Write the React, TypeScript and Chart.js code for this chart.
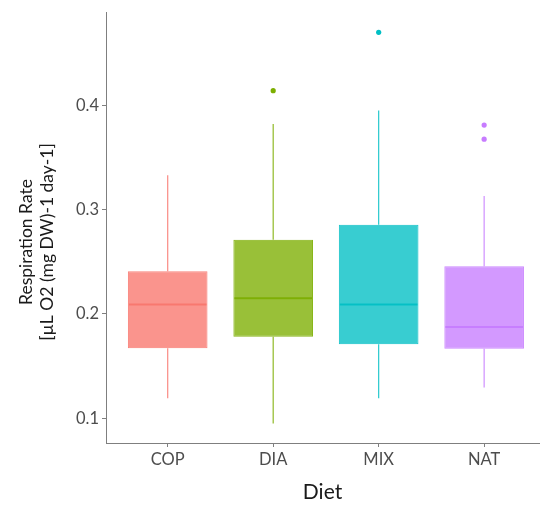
import React, { useEffect, useRef } from "react";
import { Chart, registerables } from "chart.js";

Chart.register(...registerables);

// ---- data ----
const categories = ["COP", "DIA", "MIX", "NAT"];
const whiskerLow = [0.119, 0.095, 0.119, 0.1295];
const q1 = [0.167, 0.178, 0.171, 0.1665];
const median = [0.209, 0.215, 0.209, 0.1875];
const q3 = [0.241, 0.271, 0.2855, 0.2457];
const whiskerHigh = [0.333, 0.382, 0.395, 0.313];
const outliers: number[][] = [[], [0.414], [0.47], [0.381, 0.3675]];
const yTicks = [0.1, 0.2, 0.3, 0.4];
const yTitleLines = ["Respiration Rate", "[µL O2 (mg DW)-1 day-1]"];
const xTitle = "Diet";

// ---- styles ----
const baseColors = ["#F8766D", "#7CAE00", "#00BFC4", "#C77CFF"];
function rgba(hex: string, a: number) {
  const n = parseInt(hex.slice(1), 16);
  return `rgba(${(n >> 16) & 255},${(n >> 8) & 255},${n & 255},${a})`;
}
const FONT = "Lato, 'Noto Sans', sans-serif";

const boxPlugin = {
  id: "boxParts",
  beforeDatasetsDraw(chart: any) {
    const { ctx, scales } = chart;
    const x = scales.x;
    const y = scales.y;
    ctx.save();
    categories.forEach((_, i) => {
      const px = x.getPixelForValue(i + 1);
      ctx.strokeStyle = rgba(baseColors[i], 0.85);
      ctx.lineWidth = 1.2;
      ctx.beginPath();
      ctx.moveTo(px, y.getPixelForValue(whiskerLow[i]));
      ctx.lineTo(px, y.getPixelForValue(q1[i]));
      ctx.moveTo(px, y.getPixelForValue(q3[i]));
      ctx.lineTo(px, y.getPixelForValue(whiskerHigh[i]));
      ctx.stroke();
    });
    ctx.restore();
  },
  afterDatasetsDraw(chart: any) {
    const { ctx, scales } = chart;
    const y = scales.y;
    const meta = chart.getDatasetMeta(0);
    ctx.save();
    meta.data.forEach((bar: any, i: number) => {
      const { x: cx, width } = bar.getProps(["x", "width"], true);
      const py = y.getPixelForValue(median[i]);
      ctx.strokeStyle = rgba(baseColors[i], 0.9);
      ctx.lineWidth = 2;
      ctx.beginPath();
      ctx.moveTo(cx - width / 2 + 1, py);
      ctx.lineTo(cx + width / 2 - 1, py);
      ctx.stroke();
    });
    ctx.restore();
  },
  afterDraw(chart: any) {
    const { ctx } = chart;
    ctx.save();
    ctx.translate(0, 242);
    ctx.rotate(-Math.PI / 2);
    ctx.fillStyle = "#1a1a1a";
    ctx.font = `17.5px ${FONT}`;
    ctx.textAlign = "center";
    ctx.textBaseline = "middle";
    ctx.fillText(yTitleLines[0], 0, 26);
    ctx.fillText(yTitleLines[1], 0, 47);
    ctx.restore();
  },
};

export default function App() {
  const ref = useRef<HTMLCanvasElement>(null);
  useEffect(() => {
    document.body.style.margin = "0";
    document.body.style.overflow = "hidden";
    const outlierPoints: { x: number; y: number }[] = [];
    const outlierColors: string[] = [];
    outliers.forEach((vals, i) =>
      vals.forEach((v) => {
        outlierPoints.push({ x: i + 1, y: v });
        outlierColors.push(baseColors[i]);
      })
    );
    const chart = new Chart(ref.current!, {
      type: "bar",
      data: {
        datasets: [
          {
            type: "bar",
            label: "box",
            data: categories.map((_, i) => ({ x: i + 1, y: [q1[i], q3[i]] })) as any,
            backgroundColor: baseColors.map((c) => rgba(c, 0.78)),
            borderColor: baseColors.map((c) => rgba(c, 0.9)),
            borderWidth: 1,
            borderSkipped: false,
            grouped: false,
            barPercentage: 0.755,
            categoryPercentage: 1,
            order: 1,
          } as any,
          {
            type: "scatter",
            label: "outliers",
            data: outlierPoints,
            pointBackgroundColor: outlierColors,
            pointBorderWidth: 0,
            pointRadius: 2.6,
            order: 0,
          } as any,
        ],
      },
      options: {
        responsive: false,
        animation: false,
        devicePixelRatio: 1,
        layout: { padding: { top: 10, right: 1, left: 0, bottom: 0 } },
        plugins: { legend: { display: false }, tooltip: { enabled: false } },
        scales: {
          x: {
            type: "linear",
            min: 0.415,
            max: 4.52,
            offset: false,
            afterBuildTicks: (s: any) => {
              s.ticks = categories.map((_, i) => ({ value: i + 1 }));
            },
            afterFit: (s: any) => {
              s.height = 65;
            },
            ticks: {
              callback: (v: any) => categories[Number(v) - 1] ?? "",
              color: "#4d4d4d",
              font: { family: FONT, size: 16.5 },
              padding: 3,
              maxRotation: 0,
              autoSkip: false,
            },
            grid: { drawOnChartArea: false, drawTicks: true, tickLength: 4, color: "#7f7f7f", offset: false },
            border: { display: true, color: "#7f7f7f", width: 1 },
            title: {
              display: true,
              text: xTitle,
              color: "#1a1a1a",
              font: { family: FONT, size: 21 },
              padding: { top: 0, bottom: 3 },
            },
          },
          y: {
            type: "linear",
            min: 0.0762,
            max: 0.4886,
            afterBuildTicks: (s: any) => {
              s.ticks = yTicks.map((v) => ({ value: v }));
            },
            afterFit: (s: any) => {
              s.width = 106;
            },
            ticks: {
              callback: (v: any) => Number(v).toFixed(1),
              color: "#4d4d4d",
              font: { family: FONT, size: 16.5 },
              padding: 3,
            },
            grid: { drawOnChartArea: false, drawTicks: true, tickLength: 4, color: "#7f7f7f" },
            border: { display: true, color: "#7f7f7f", width: 1 },
          },
        },
      },
      plugins: [boxPlugin],
    } as any);
    return () => chart.destroy();
  }, []);
  return (
    <div style={{ width: 543, height: 508 }}>
      <canvas ref={ref} width={543} height={508} style={{ display: "block" }} />
    </div>
  );
}
